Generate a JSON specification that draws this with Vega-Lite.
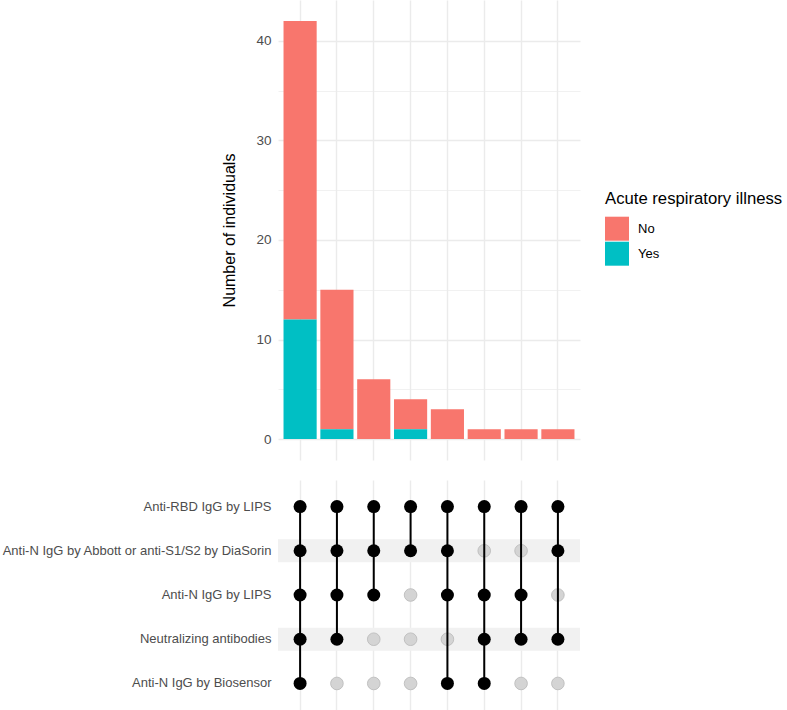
{
  "$schema": "https://vega.github.io/schema/vega-lite/v6.json",
  "padding": {"left": 1, "top": 0, "right": 0, "bottom": 0},
  "background": "white",
  "config": {
    "font": "Liberation Sans",
    "view": {"stroke": null},
    "concat": {"spacing": 20}
  },
  "datasets": {
    "bars": [
      {"set": 1, "illness": "No", "count": 30},
      {"set": 1, "illness": "Yes", "count": 12},
      {"set": 2, "illness": "No", "count": 14},
      {"set": 2, "illness": "Yes", "count": 1},
      {"set": 3, "illness": "No", "count": 6},
      {"set": 4, "illness": "No", "count": 3},
      {"set": 4, "illness": "Yes", "count": 1},
      {"set": 5, "illness": "No", "count": 3},
      {"set": 6, "illness": "No", "count": 1},
      {"set": 7, "illness": "No", "count": 1},
      {"set": 8, "illness": "No", "count": 1}
    ],
    "rows": [
      {"row": "Anti-RBD IgG by LIPS"},
      {"row": "Anti-N IgG by Abbott or anti-S1/S2 by DiaSorin"},
      {"row": "Anti-N IgG by LIPS"},
      {"row": "Neutralizing antibodies"},
      {"row": "Anti-N IgG by Biosensor"}
    ],
    "matrix": [
      {"set": 1, "row": "Anti-RBD IgG by LIPS", "member": true},
      {"set": 1, "row": "Anti-N IgG by Abbott or anti-S1/S2 by DiaSorin", "member": true},
      {"set": 1, "row": "Anti-N IgG by LIPS", "member": true},
      {"set": 1, "row": "Neutralizing antibodies", "member": true},
      {"set": 1, "row": "Anti-N IgG by Biosensor", "member": true},
      {"set": 2, "row": "Anti-RBD IgG by LIPS", "member": true},
      {"set": 2, "row": "Anti-N IgG by Abbott or anti-S1/S2 by DiaSorin", "member": true},
      {"set": 2, "row": "Anti-N IgG by LIPS", "member": true},
      {"set": 2, "row": "Neutralizing antibodies", "member": true},
      {"set": 2, "row": "Anti-N IgG by Biosensor", "member": false},
      {"set": 3, "row": "Anti-RBD IgG by LIPS", "member": true},
      {"set": 3, "row": "Anti-N IgG by Abbott or anti-S1/S2 by DiaSorin", "member": true},
      {"set": 3, "row": "Anti-N IgG by LIPS", "member": true},
      {"set": 3, "row": "Neutralizing antibodies", "member": false},
      {"set": 3, "row": "Anti-N IgG by Biosensor", "member": false},
      {"set": 4, "row": "Anti-RBD IgG by LIPS", "member": true},
      {"set": 4, "row": "Anti-N IgG by Abbott or anti-S1/S2 by DiaSorin", "member": true},
      {"set": 4, "row": "Anti-N IgG by LIPS", "member": false},
      {"set": 4, "row": "Neutralizing antibodies", "member": false},
      {"set": 4, "row": "Anti-N IgG by Biosensor", "member": false},
      {"set": 5, "row": "Anti-RBD IgG by LIPS", "member": true},
      {"set": 5, "row": "Anti-N IgG by Abbott or anti-S1/S2 by DiaSorin", "member": true},
      {"set": 5, "row": "Anti-N IgG by LIPS", "member": true},
      {"set": 5, "row": "Neutralizing antibodies", "member": false},
      {"set": 5, "row": "Anti-N IgG by Biosensor", "member": true},
      {"set": 6, "row": "Anti-RBD IgG by LIPS", "member": true},
      {"set": 6, "row": "Anti-N IgG by Abbott or anti-S1/S2 by DiaSorin", "member": false},
      {"set": 6, "row": "Anti-N IgG by LIPS", "member": true},
      {"set": 6, "row": "Neutralizing antibodies", "member": true},
      {"set": 6, "row": "Anti-N IgG by Biosensor", "member": true},
      {"set": 7, "row": "Anti-RBD IgG by LIPS", "member": true},
      {"set": 7, "row": "Anti-N IgG by Abbott or anti-S1/S2 by DiaSorin", "member": false},
      {"set": 7, "row": "Anti-N IgG by LIPS", "member": true},
      {"set": 7, "row": "Neutralizing antibodies", "member": true},
      {"set": 7, "row": "Anti-N IgG by Biosensor", "member": false},
      {"set": 8, "row": "Anti-RBD IgG by LIPS", "member": true},
      {"set": 8, "row": "Anti-N IgG by Abbott or anti-S1/S2 by DiaSorin", "member": true},
      {"set": 8, "row": "Anti-N IgG by LIPS", "member": false},
      {"set": 8, "row": "Neutralizing antibodies", "member": true},
      {"set": 8, "row": "Anti-N IgG by Biosensor", "member": false}
    ],
    "links": [
      {"set": 1, "from": "Anti-RBD IgG by LIPS", "to": "Anti-N IgG by Biosensor"},
      {"set": 2, "from": "Anti-RBD IgG by LIPS", "to": "Neutralizing antibodies"},
      {"set": 3, "from": "Anti-RBD IgG by LIPS", "to": "Anti-N IgG by LIPS"},
      {"set": 4, "from": "Anti-RBD IgG by LIPS", "to": "Anti-N IgG by Abbott or anti-S1/S2 by DiaSorin"},
      {"set": 5, "from": "Anti-RBD IgG by LIPS", "to": "Anti-N IgG by Biosensor"},
      {"set": 6, "from": "Anti-RBD IgG by LIPS", "to": "Anti-N IgG by Biosensor"},
      {"set": 7, "from": "Anti-RBD IgG by LIPS", "to": "Neutralizing antibodies"},
      {"set": 8, "from": "Anti-RBD IgG by LIPS", "to": "Neutralizing antibodies"}
    ]
  },
  "vconcat": [
    {
      "width": 302,
      "height": 460,
      "data": {"name": "bars"},
      "mark": {"type": "bar"},
      "encoding": {
        "x": {
          "field": "set", "type": "ordinal",
          "scale": {"paddingInner": 0.1, "paddingOuter": 0.15},
          "axis": {"labels": false, "ticks": false, "domain": false, "title": null, "grid": true, "gridColor": "#ebebeb", "gridWidth": 1.4}
        },
        "y": {
          "field": "count", "type": "quantitative",
          "scale": {"domain": [-2.1, 44.1], "nice": false, "zero": false},
          "axis": {
            "values": [0, 5, 10, 15, 20, 25, 30, 35, 40],
            "labelExpr": "datum.value % 10 === 0 ? datum.label : ''",
            "grid": true, "gridColor": "#ebebeb",
            "gridWidth": {"condition": {"test": "datum.value % 10 === 0", "value": 1.4}, "value": 0.7},
            "ticks": false, "domain": false,
            "labelPadding": 7, "labelColor": "#4d4d4d", "labelFontSize": 13.5,
            "title": "Number of individuals", "titleFontSize": 16, "titleFontWeight": "normal", "titleColor": "black", "titlePadding": 18
          }
        },
        "color": {
          "field": "illness", "type": "nominal",
          "scale": {"domain": ["No", "Yes"], "range": ["#F8766D", "#00BFC4"]},
          "legend": {
            "orient": "none", "legendX": 327, "legendY": 191,
            "title": "Acute respiratory illness", "titleFontSize": 16.7, "titleFontWeight": "normal", "titleColor": "black", "titlePadding": 9,
            "labelFontSize": 13, "labelColor": "black", "labelOffset": 9,
            "symbolType": "square", "symbolSize": 576, "symbolStrokeWidth": 0, "symbolOpacity": 1, "rowPadding": 1
          }
        },
        "order": {"field": "illness", "sort": "descending"}
      }
    },
    {
      "width": 302,
      "height": 230,
      "encoding": {
        "x": {
          "field": "set", "type": "ordinal",
          "scale": {"domain": [1, 2, 3, 4, 5, 6, 7, 8], "paddingInner": 0.1, "paddingOuter": 0.15},
          "axis": {"labels": false, "ticks": false, "domain": false, "title": null, "grid": true, "gridColor": "#ebebeb", "gridWidth": 1.4}
        }
      },
      "layer": [
        {
          "data": {"name": "rows"},
          "transform": [{"filter": {"field": "row", "oneOf": ["Anti-N IgG by Abbott or anti-S1/S2 by DiaSorin", "Neutralizing antibodies"]}}],
          "mark": {"type": "rect", "color": "#f1f1f1"},
          "encoding": {
            "x": null,
            "y": {
              "field": "row", "type": "nominal",
              "scale": {"domain": ["Anti-RBD IgG by LIPS", "Anti-N IgG by Abbott or anti-S1/S2 by DiaSorin", "Anti-N IgG by LIPS", "Neutralizing antibodies", "Anti-N IgG by Biosensor"], "paddingInner": 0.48, "paddingOuter": 0.34},
              "axis": {"title": null, "ticks": false, "domain": false, "grid": false, "labelPadding": 7, "labelColor": "#4d4d4d", "labelFontSize": 13, "labelLimit": 0}
            }
          }
        },
        {
          "data": {"name": "matrix"},
          "transform": [{"filter": "!datum.member"}],
          "mark": {"type": "point", "filled": true, "fill": "#d4d4d4", "stroke": "#b8b8b8", "strokeWidth": 0.8, "size": 160, "opacity": 1},
          "encoding": {
            "y": {"field": "row", "type": "nominal"}
          }
        },
        {
          "data": {"name": "links"},
          "mark": {"type": "rule", "color": "black", "strokeWidth": 2},
          "encoding": {
            "x": {"field": "set", "type": "ordinal", "bandPosition": 0.5},
            "y": {"field": "from", "type": "nominal", "bandPosition": 0.5},
            "y2": {"field": "to", "bandPosition": 0.5}
          }
        },
        {
          "data": {"name": "matrix"},
          "transform": [{"filter": "datum.member"}],
          "mark": {"type": "point", "filled": true, "color": "black", "size": 169, "opacity": 1},
          "encoding": {
            "y": {"field": "row", "type": "nominal"}
          }
        }
      ]
    }
  ]
}
